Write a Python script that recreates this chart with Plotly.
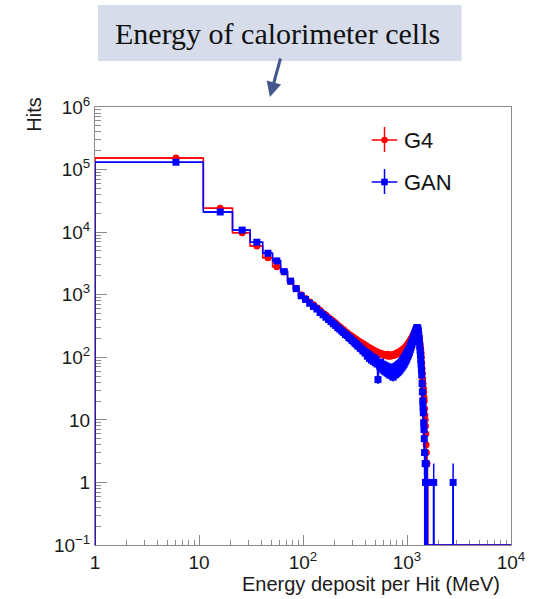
import numpy as np
import plotly.graph_objects as go

# ---------------- data ----------------
bin_width = 10.0
first_edge = 1.0
n_bins = 1000

g4_counts = [
    153000, 24100, 9800, 6000, 3900, 2810, 2300, 1620, 1270, 1000,
    872, 765, 694, 618, 563, 506, 472, 431, 407, 376,
    352, 326, 309, 288, 275, 256, 246, 232, 226, 214,
    209, 198, 194, 184, 181, 173, 171, 163, 161, 154,
    153, 146, 145, 139, 139, 133, 133, 128, 128, 123,
    124, 119, 120, 116, 117, 113, 115, 111, 113, 109,
    111, 107, 110, 106, 112, 105, 110, 104, 108, 105,
    109, 106, 110, 107, 111, 109, 113, 110, 115, 113,
    118, 115, 120, 118, 123, 121, 126, 124, 129, 128,
    133, 131, 137, 135, 141, 140, 147, 146, 153, 152,
    159, 159, 166, 167, 174, 175, 182, 184, 192, 194,
    202, 205, 213, 217, 226, 231, 240, 246, 255, 262,
    270, 277, 283, 288, 291, 289, 284, 274, 256, 236,
    214, 196, 177, 161, 144, 131, 116, 100, 81, 66,
    55, 45, 38, 32, 28, 23, 20, 15, 12, 10,
    8, 6, 4, 3, 2, 2, 1, 1,
]

gan_counts = [
    131000, 21000, 10800, 6900, 4600, 3470, 2340, 1650, 1250, 960,
    840, 730, 650, 590, 520, 478, 436, 402, 371, 343,
    322, 297, 281, 262, 248, 231, 222, 206, 199, 186,
    180, 168, 162, 152, 149, 139, 137, 127, 126, 117,
    118, 104, 113, 96, 105, 90, 100, 86, 97, 82,
    91, 78, 44, 80, 72, 84, 67, 78, 63, 76,
    60, 74, 58, 71, 56, 70, 54, 69, 52, 68,
    51, 69, 50, 48, 68, 52, 70, 53, 72, 55,
    74, 57, 77, 60, 79, 62, 82, 66, 86, 69,
    90, 73, 95, 77, 100, 82, 106, 88, 113, 94,
    120, 102, 128, 110, 137, 120, 147, 132, 158, 145,
    171, 160, 186, 176, 202, 194, 219, 214, 238, 236,
    258, 262, 278, 286, 296, 298, 292, 280, 256, 226,
    200, 174, 150, 130, 110, 92, 78, 64, 52, 38,
    28, 20, 16, 13, 9, 7, 5, 3, 0, 2,
    1, 0, 2, 0, 1, 0, 1, 0,
]

gan_tail_centers = [1806, 2776]
gan_tail_counts = [1, 1]

x_tick_vals = [1, 10, 100, 1000, 10000]
x_tick_text = ["1", "10", "10<sup>2</sup>", "10<sup>3</sup>", "10<sup>4</sup>"]
y_tick_vals = [0.1, 1, 10, 100, 1e3, 1e4, 1e5, 1e6]
y_tick_text = ["10<sup>\u22121</sup>", "1", "10", "10<sup>2</sup>", "10<sup>3</sup>",
               "10<sup>4</sup>", "10<sup>5</sup>", "10<sup>6</sup>"]

series_names = ["G4", "GAN"]
series_colors = ["#ff0000", "#0000ff"]
series_symbols = ["circle", "square"]

# ---------------- build histograms ----------------
edges = first_edge + bin_width * np.arange(n_bins + 1)
centers = edges[:-1] + bin_width / 2.0


def full_hist(counts, tail_c=(), tail_n=()):
    h = np.zeros(n_bins)
    h[:len(counts)] = counts
    for c, n in zip(tail_c, tail_n):
        idx = int(round((c - first_edge) / bin_width - 0.5))
        h[idx] += n
    return h


hists = [full_hist(g4_counts), full_hist(gan_counts, gan_tail_centers, gan_tail_counts)]

floor = 0.1
fig = go.Figure()
for h, name, col, sym in zip(hists, series_names, series_colors, series_symbols):
    yl = np.where(h > 0, h, floor)
    xs = np.concatenate([[edges[0]], edges])
    ys = np.concatenate([[floor], yl, [yl[-1]]])
    fig.add_trace(go.Scatter(x=xs, y=ys, mode="lines", line=dict(color=col, width=1.6, shape="hv"),
                             showlegend=False, hoverinfo="skip"))
    m = h > 0
    yv = h[m]
    err = np.sqrt(yv)
    errm = np.minimum(err, yv - 0.05)
    fig.add_trace(go.Scatter(
        x=centers[m], y=yv, mode="markers", name=name, showlegend=False,
        marker=dict(color=col, symbol=sym, size=7, line=dict(width=0)),
        error_y=dict(type="data", array=err, arrayminus=errm, color=col, thickness=1.5, width=0),
        error_x=dict(type="data", array=np.full(m.sum(), bin_width / 2), color=col, thickness=1.5, width=0),
    ))

# ---------------- layout ----------------
L, R, T, B = 95, 516, 107, 545
W, H = 537, 599


def px(x):
    return (x - L) / (R - L)


def py(y):
    return (B - y) / (B - T)


axis_col = "#8a8a8a"
tick_font = dict(family="Liberation Sans, Arial, sans-serif", size=19, color="#1a1a1a")

x_minor = [m * 10 ** d for d in range(0, 4) for m in range(2, 10)]
y_minor = [m * 10.0 ** d for d in range(-1, 6) for m in range(2, 10)]

fig.update_layout(
    width=W, height=H,
    margin=dict(l=L, r=W - R, t=T, b=H - B),
    paper_bgcolor="white", plot_bgcolor="white",
    showlegend=False,
    xaxis=dict(type="log", range=[0, 4], showgrid=False, zeroline=False,
               showline=True, linecolor=axis_col, linewidth=1, mirror=True,
               ticks="inside", ticklen=10, tickwidth=1, tickcolor=axis_col,
               tickmode="array", tickvals=x_tick_vals, ticktext=x_tick_text,
               tickfont=tick_font, layer="below traces",
               minor=dict(tickmode="array", tickvals=x_minor, ticks="inside", ticklen=5,
                          tickcolor=axis_col, tickwidth=1, showgrid=False)),
    yaxis=dict(type="log", range=[-1, 6], showgrid=False, zeroline=False,
               showline=True, linecolor=axis_col, linewidth=1, mirror=True,
               ticks="inside", ticklen=12, tickwidth=1, tickcolor=axis_col,
               tickmode="array", tickvals=y_tick_vals, ticktext=y_tick_text,
               tickfont=tick_font, layer="below traces",
               minor=dict(tickmode="array", tickvals=y_minor, ticks="inside", ticklen=6,
                          tickcolor=axis_col, tickwidth=1, showgrid=False)),
)

shapes = []
annotations = []

# title box + arrow
shapes.append(dict(type="rect", xref="paper", yref="paper", x0=px(98), x1=px(466), y0=py(61), y1=py(5),
                   fillcolor="#d6dce9", line=dict(width=0), layer="below"))
annotations.append(dict(xref="paper", yref="paper", x=px(279.5), y=py(33), text="Energy of calorimeter cells",
                        showarrow=False, xanchor="center", yanchor="middle",
                        font=dict(family="Liberation Serif, Times New Roman, serif", size=30, color="#111111")))
annotations.append(dict(xref="paper", yref="paper", x=px(272), y=py(97), text="", showarrow=True,
                        ax=11, ay=-40, arrowhead=2, arrowsize=1.0, arrowwidth=3, arrowcolor="#44588c",
                        standoff=0))

# axis titles
title_font = dict(family="Liberation Sans, Arial, sans-serif", size=20, color="#1a1a1a")
annotations.append(dict(xref="paper", yref="paper", x=px(507), y=py(584), text="Energy deposit per Hit (MeV)",
                        showarrow=False, xanchor="right", yanchor="middle", font=title_font))
annotations.append(dict(xref="paper", yref="paper", x=px(33), y=py(115), text="Hits", textangle=-90,
                        showarrow=False, xanchor="center", yanchor="middle", font=title_font))

# legend
leg_rows = [140, 182]
for name, col, sym, yc in zip(series_names, series_colors, series_symbols, leg_rows):
    shapes.append(dict(type="line", xref="paper", yref="paper", x0=px(375), x1=px(401), y0=py(yc), y1=py(yc),
                       line=dict(color=col, width=1.5)))
    shapes.append(dict(type="line", xref="paper", yref="paper", x0=px(388), x1=px(388), y0=py(yc - 13),
                       y1=py(yc + 12), line=dict(color=col, width=1.5)))
    r = 3.3
    shapes.append(dict(type="circle" if sym == "circle" else "rect", xref="paper", yref="paper",
                       x0=px(388 - r), x1=px(388 + r), y0=py(yc + r), y1=py(yc - r),
                       fillcolor=col, line=dict(width=0)))
    annotations.append(dict(xref="paper", yref="paper", x=px(406), y=py(yc), text=name, showarrow=False,
                            xanchor="left", yanchor="middle",
                            font=dict(family="Liberation Sans, Arial, sans-serif", size=22, color="#111111")))

fig.update_layout(shapes=shapes, annotations=annotations)
fig.write_html("out.html")
